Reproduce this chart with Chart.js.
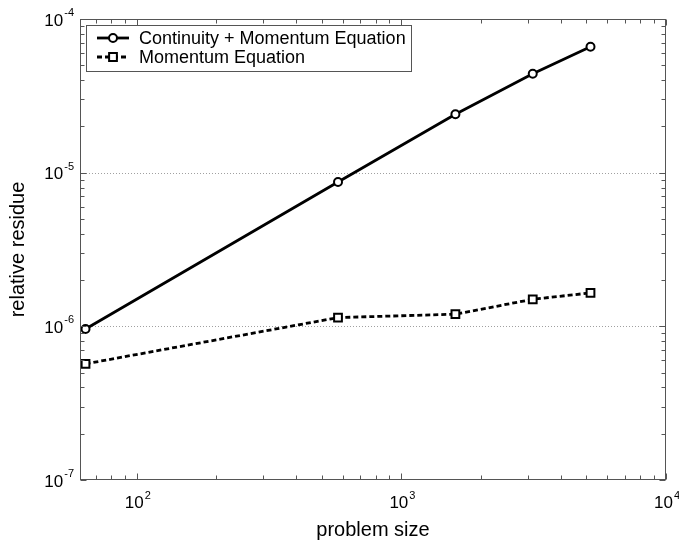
<!DOCTYPE html>
<html>
<head>
<meta charset="utf-8">
<script src="https://cdn.jsdelivr.net/npm/chart.js@4.4.0/dist/chart.umd.min.js"></script>
<style>
    html, body { margin: 0; padding: 0; background: #ffffff; }
    #area { width: 679px; height: 546px; }
</style>
</head>
<body>
<div id="area"><canvas id="grafico"></canvas></div>
<script>
// problem sizes (8^2, 24^2, 40^2, 56^2, 72^2)
const problemSizes = [64, 576, 1600, 3136, 5184];
const residueContinuity = [9.6e-7, 8.7e-6, 2.4e-5, 4.4e-5, 6.6e-5];
const residueMomentum = [5.7e-7, 1.14e-6, 1.2e-6, 1.5e-6, 1.65e-6];
const seriesNames = ['Continuity + Momentum Equation', 'Momentum Equation'];

const xExponents = [2, 3, 4];
const yExponents = [-7, -6, -5, -4];

const FONT = '"Liberation Sans", Arial, Helvetica, sans-serif';
const AXIS_COLOR = '#555555';

function toPoints(xs, ys) {
    let pts = [];
    for (let i = 0; i < xs.length; i++) {
        pts.push({ x: xs[i], y: ys[i] });
    }
    return pts;
}

// "10" with a raised exponent, like MATLAB tick labels
function drawPower(ctx, exp, x, baseline, align) {
    ctx.font = '17px ' + FONT;
    const wBase = ctx.measureText('10').width;
    ctx.font = '11px ' + FONT;
    const wExp = ctx.measureText(String(exp)).width;
    let left;
    if (align === 'right') {
        left = x - wBase - wExp - 1;
    } else {
        left = x - (wBase + wExp + 1) / 2;
    }
    ctx.textAlign = 'left';
    ctx.textBaseline = 'alphabetic';
    ctx.fillStyle = '#000';
    ctx.font = '17px ' + FONT;
    ctx.fillText('10', left, baseline);
    ctx.font = '11px ' + FONT;
    ctx.fillText(String(exp), left + wBase + 1, baseline - 9.5);
}

// list of 1..9 x 10^n values inside the scale range
function logTicks(min, max) {
    let out = [];
    for (let d = Math.floor(Math.log10(min)); d <= Math.ceil(Math.log10(max)); d++) {
        for (let m = 1; m <= 9; m++) {
            let v = m * Math.pow(10, d);
            if (v >= min * 0.9999 && v <= max * 1.0001) {
                out.push({ value: v, major: m === 1 });
            }
        }
    }
    return out;
}

const axesPlugin = {
    id: 'matlabAxes',
    beforeDatasetsDraw(chart) {
        const ctx = chart.ctx;
        const area = chart.chartArea;
        const yScale = chart.scales.y;

        // dotted grid on the major y ticks
        ctx.save();
        ctx.strokeStyle = '#a0a0a0';
        ctx.lineWidth = 1;
        ctx.setLineDash([1, 2]);
        for (let i = 0; i < yExponents.length; i++) {
            let py = Math.round(yScale.getPixelForValue(Math.pow(10, yExponents[i]))) + 0.5;
            if (py <= area.top + 1 || py >= area.bottom - 1) continue;
            ctx.beginPath();
            ctx.moveTo(area.left, py);
            ctx.lineTo(area.right, py);
            ctx.stroke();
        }
        ctx.restore();
    },
    afterDatasetsDraw(chart) {
        const ctx = chart.ctx;
        const area = chart.chartArea;
        const xScale = chart.scales.x;
        const yScale = chart.scales.y;
        const left = Math.round(area.left) + 0.5;
        const right = Math.round(area.right) - 0.5;
        const top = Math.round(area.top) + 0.5;
        const bottom = Math.round(area.bottom) - 0.5;

        ctx.save();
        ctx.strokeStyle = AXIS_COLOR;
        ctx.lineWidth = 1;

        // box
        ctx.strokeRect(left, top, right - left, bottom - top);

        // x ticks, top and bottom, pointing inward
        const xt = logTicks(xScale.min, xScale.max);
        ctx.beginPath();
        for (let i = 0; i < xt.length; i++) {
            let px = Math.round(xScale.getPixelForValue(xt[i].value)) + 0.5;
            let len = xt[i].major ? 6 : 4;
            ctx.moveTo(px, bottom);
            ctx.lineTo(px, bottom - len);
            ctx.moveTo(px, top);
            ctx.lineTo(px, top + len);
        }
        // y ticks, left and right
        const yt = logTicks(yScale.min, yScale.max);
        for (let i = 0; i < yt.length; i++) {
            let py = Math.round(yScale.getPixelForValue(yt[i].value)) + 0.5;
            let len = yt[i].major ? 6 : 4;
            ctx.moveTo(left, py);
            ctx.lineTo(left + len, py);
            ctx.moveTo(right, py);
            ctx.lineTo(right - len, py);
        }
        ctx.stroke();
        ctx.restore();

        // tick labels
        ctx.save();
        for (let i = 0; i < xExponents.length; i++) {
            let px = xScale.getPixelForValue(Math.pow(10, xExponents[i]));
            drawPower(ctx, xExponents[i], px + 1, area.bottom + 28, 'center');
        }
        for (let i = 0; i < yExponents.length; i++) {
            let py = yScale.getPixelForValue(Math.pow(10, yExponents[i]));
            drawPower(ctx, yExponents[i], area.left - 6, py + 6.5, 'right');
        }

        // axis titles
        ctx.fillStyle = '#000';
        ctx.font = '20px ' + FONT;
        ctx.textAlign = 'center';
        ctx.textBaseline = 'alphabetic';
        ctx.fillText('problem size', (area.left + area.right) / 2, 536);
        ctx.translate(24, (area.top + area.bottom) / 2);
        ctx.rotate(-Math.PI / 2);
        ctx.fillText('relative residue', 0, 0);
        ctx.restore();

        // legend box
        ctx.save();
        ctx.fillStyle = '#ffffff';
        ctx.fillRect(86.5, 25.5, 325, 46);
        ctx.strokeStyle = AXIS_COLOR;
        ctx.lineWidth = 1;
        ctx.strokeRect(86.5, 25.5, 325, 46);

        const rows = [38, 57];
        const datasets = chart.data.datasets;
        for (let i = 0; i < datasets.length; i++) {
            let ds = datasets[i];
            let y = rows[i];
            ctx.strokeStyle = '#000';
            ctx.lineWidth = ds.borderWidth;
            ctx.setLineDash(ds.borderDash || []);
            ctx.beginPath();
            ctx.moveTo(97, y);
            ctx.lineTo(129, y);
            ctx.stroke();
            ctx.setLineDash([]);
            ctx.fillStyle = '#ffffff';
            ctx.strokeStyle = '#000';
            ctx.lineWidth = ds.pointBorderWidth;
            Chart.helpers.drawPoint(ctx, {
                pointStyle: ds.pointStyle,
                radius: ds.pointRadius,
                rotation: 0,
                borderWidth: ds.pointBorderWidth
            }, 113, y);
            ctx.fillStyle = '#000';
            ctx.font = '18px ' + FONT;
            ctx.textAlign = 'left';
            ctx.textBaseline = 'middle';
            ctx.fillText(ds.label, 139, y + 1);
        }
        ctx.restore();
    }
};

const ctxGrafico = document.getElementById('grafico');

new Chart(ctxGrafico, {
    type: 'line',
    data: {
        datasets: [
            {
                label: seriesNames[0],
                data: toPoints(problemSizes, residueContinuity),
                borderColor: '#000000',
                borderWidth: 2.8,
                pointStyle: 'circle',
                pointRadius: 4,
                pointBorderWidth: 2,
                pointBackgroundColor: '#ffffff',
                pointBorderColor: '#000000',
                tension: 0
            },
            {
                label: seriesNames[1],
                data: toPoints(problemSizes, residueMomentum),
                borderColor: '#000000',
                borderWidth: 2.8,
                borderDash: [5, 3],
                pointStyle: 'rect',
                pointRadius: 5.5,
                pointBorderWidth: 2,
                pointBackgroundColor: '#ffffff',
                pointBorderColor: '#000000',
                tension: 0
            }
        ]
    },
    options: {
        responsive: true,
        maintainAspectRatio: false,
        animation: false,
        devicePixelRatio: 1,
        layout: {
            padding: { left: 80, right: 13, top: 19, bottom: 66 }
        },
        scales: {
            x: {
                type: 'logarithmic',
                min: 61,
                max: 10000,
                display: false
            },
            y: {
                type: 'logarithmic',
                min: 1e-7,
                max: 1e-4,
                display: false
            }
        },
        plugins: {
            legend: { display: false },
            tooltip: { enabled: false }
        }
    },
    plugins: [axesPlugin]
});
</script>
</body>
</html>
